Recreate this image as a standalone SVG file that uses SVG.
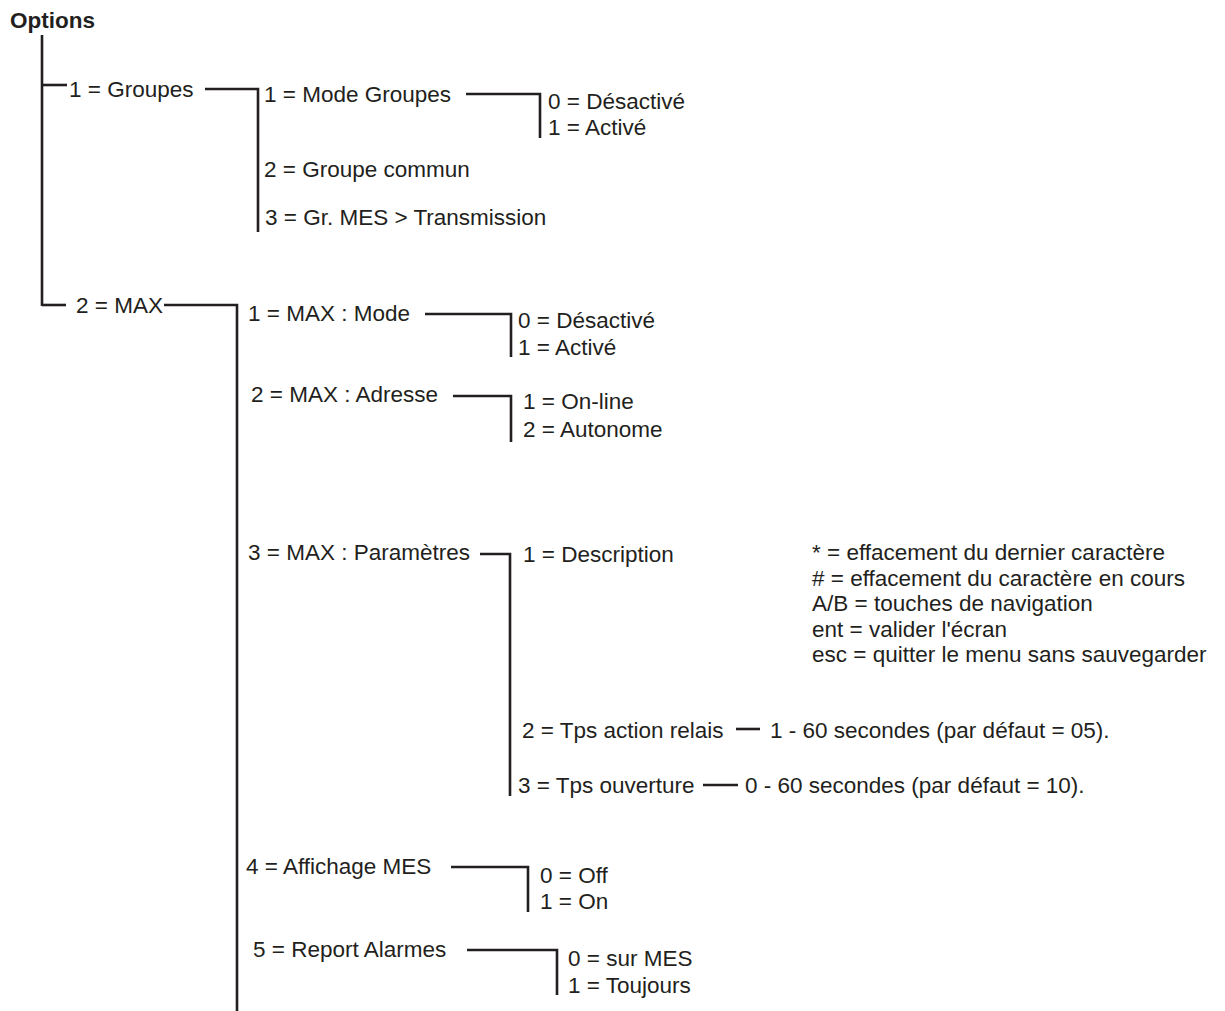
<svg xmlns="http://www.w3.org/2000/svg" width="1225" height="1011" viewBox="0 0 1225 1011">
<style>
text{font-family:"Liberation Sans",Arial,Helvetica,sans-serif;font-size:22.5px;fill:#231f20}
.title{font-weight:bold}
.ln{stroke:#231f20;stroke-width:2.6;fill:none;stroke-linecap:butt}
</style>
<rect width="1225" height="1011" fill="#ffffff"/>
<g id="connectors">
<path class="ln" d="M42 35V306"/>
<path class="ln" d="M42 85H67"/>
<path class="ln" d="M42 305H66"/>
<path class="ln" d="M205 89H258V232"/>
<path class="ln" d="M466 94H540V138"/>
<path class="ln" d="M164 305H237V1011"/>
<path class="ln" d="M425 314H511V357"/>
<path class="ln" d="M453 396H511V442"/>
<path class="ln" d="M480 554H510V796"/>
<path class="ln" d="M736 729H760"/>
<path class="ln" d="M703 785H738"/>
<path class="ln" d="M451 867H528V912"/>
<path class="ln" d="M467 950H557V995"/>
</g>
<g id="n-options"><text class="title" x="10" y="28">Options</text></g>
<g id="n-groupes"><text x="69" y="97">1 = Groupes</text></g>
<g id="n-mode-groupes"><text x="264" y="102">1 = Mode Groupes</text></g>
<g id="n-mg-0"><text x="548" y="109">0 = Désactivé</text></g>
<g id="n-mg-1"><text x="548" y="135">1 = Activé</text></g>
<g id="n-groupe-commun"><text x="264" y="177">2 = Groupe commun</text></g>
<g id="n-gr-mes"><text x="265" y="225">3 = Gr. MES &gt; Transmission</text></g>
<g id="n-max"><text x="76" y="313">2 = MAX</text></g>
<g id="n-max-mode"><text x="248" y="321">1 = MAX : Mode</text></g>
<g id="n-mm-0"><text x="518" y="328">0 = Désactivé</text></g>
<g id="n-mm-1"><text x="518" y="355">1 = Activé</text></g>
<g id="n-max-adresse"><text x="251" y="402">2 = MAX : Adresse</text></g>
<g id="n-ma-1"><text x="523" y="409">1 = On-line</text></g>
<g id="n-ma-2"><text x="523" y="437">2 = Autonome</text></g>
<g id="n-max-param"><text x="248" y="560">3 = MAX : Paramètres</text></g>
<g id="n-description"><text x="523" y="562">1 = Description</text></g>
<g id="n-notes">
<text x="812" y="560">* = effacement du dernier caractère</text>
<text x="812" y="585.5"># = effacement du caractère en cours</text>
<text x="812" y="611">A/B = touches de navigation</text>
<text x="812" y="636.5">ent = valider l'écran</text>
<text x="812" y="662">esc = quitter le menu sans sauvegarder</text>
</g>
<g id="n-tps-action"><text x="522" y="738">2 = Tps action relais</text></g>
<g id="n-tps-action-val"><text x="770" y="738">1 - 60 secondes (par défaut = 05).</text></g>
<g id="n-tps-ouv"><text x="518" y="793">3 = Tps ouverture</text></g>
<g id="n-tps-ouv-val"><text x="745" y="793">0 - 60 secondes (par défaut = 10).</text></g>
<g id="n-affichage"><text x="246" y="874">4 = Affichage MES</text></g>
<g id="n-af-0"><text x="540" y="883">0 = Off</text></g>
<g id="n-af-1"><text x="540" y="909">1 = On</text></g>
<g id="n-report"><text x="253" y="957">5 = Report Alarmes</text></g>
<g id="n-rep-0"><text x="568" y="966">0 = sur MES</text></g>
<g id="n-rep-1"><text x="568" y="993">1 = Toujours</text></g>
</svg>
